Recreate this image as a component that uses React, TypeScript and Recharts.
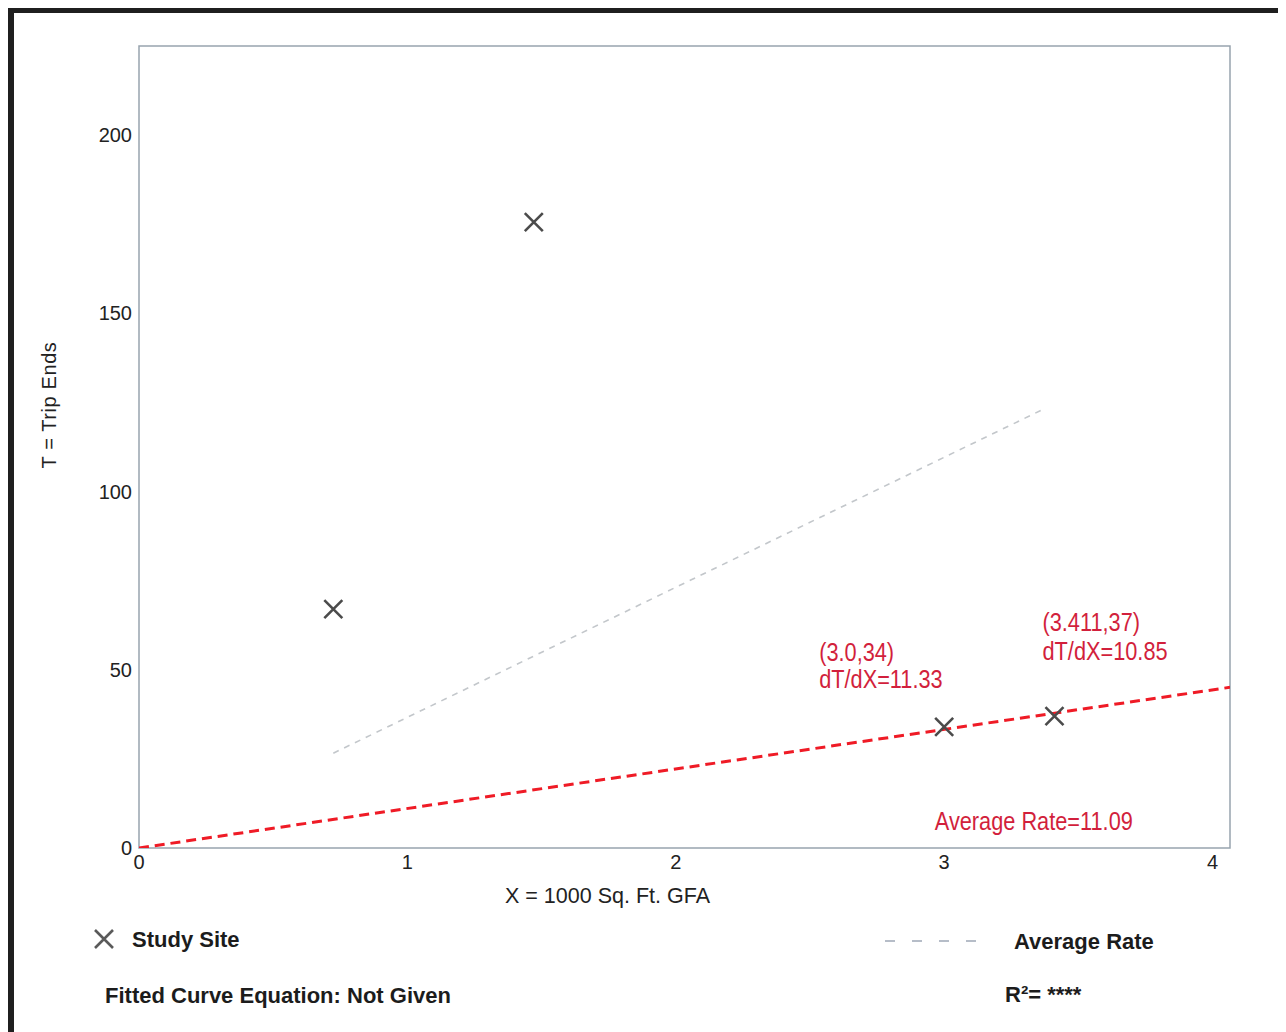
import React from 'react';
import {
  ComposedChart, XAxis, YAxis, Line, Scatter, ReferenceArea, ReferenceDot,
} from 'recharts';

// study sites (1000 sq ft GFA vs trip ends)
const siteX = [0.724, 1.471, 3.0, 3.411];
const siteT = [67, 175.6, 34, 37];

// fitted average-rate line across the observed range
const fitX = [0.724, 3.378];
const fitT = [26.6, 123.4];

// red average rate through the origin
const AVG_RATE = 11.09;
const rateX = [0, 4.065];

const xTicks = [0, 1, 2, 3, 4];
const yTicks = [0, 50, 100, 150, 200];

const X_MAX = 4.065;
const Y_MAX = 225;

const sites = siteX.map((x, i) => ({ x, y: siteT[i] }));
const fitLine = fitX.map((x, i) => ({ x, y: fitT[i] }));
const rateLine = rateX.map(x => ({ x, y: x * AVG_RATE }));

const FONT = "'Liberation Sans', Arial, Helvetica, sans-serif";
const RED_TEXT = '#d21f3c';
// condensed look for the red notes
const SQUEEZE = 0.87;

const Cross = ({ cx, cy, size = 9, color = '#4b4b4b' }: any) => (
  <path
    d={`M${cx - size},${cy - size}L${cx + size},${cy + size}M${cx - size},${cy + size}L${cx + size},${cy - size}`}
    stroke={color}
    strokeWidth={2.6}
    fill="none"
  />
);

// multi-line red note drawn relative to a reference dot
const Note = ({ viewBox, lines, dx = 0, dy = 0, gap = 28 }: any) => {
  if (!viewBox) return null;
  const cx = viewBox.x + (viewBox.width || 0) / 2;
  const cy = viewBox.y + (viewBox.height || 0) / 2;
  return (
    <g transform={`translate(${cx + dx}, ${cy + dy}) scale(${SQUEEZE}, 1)`}>
      <text x={0} y={0} fill={RED_TEXT} fontFamily={FONT} fontSize={25} textAnchor="start">
        {lines.map((l: string, i: number) => (
          <tspan key={i} x={0} dy={i === 0 ? 0 : gap}>{l}</tspan>
        ))}
      </text>
    </g>
  );
};

const XTitle = ({ viewBox }: any) => {
  if (!viewBox) return null;
  return (
    <text x={viewBox.x + viewBox.width / 2 - 77} y={viewBox.y + 55} textAnchor="middle"
      fontFamily={FONT} fontSize={21.5} fill="#222">
      X = 1000 Sq. Ft. GFA
    </text>
  );
};

const YTitle = ({ viewBox }: any) => {
  if (!viewBox) return null;
  const x = 35;
  const y = viewBox.y + viewBox.height / 2 - 42;
  return (
    <text x={x} y={y} transform={`rotate(-90, ${x}, ${y})`} textAnchor="middle" dominantBaseline="central"
      fontFamily={FONT} fontSize={20} fill="#222" letterSpacing={0.6}>
      T = Trip Ends
    </text>
  );
};

const tickStyle = { fontSize: 20, fill: '#222', fontFamily: FONT };

const legendText: React.CSSProperties = {
  position: 'absolute', fontFamily: FONT, fontWeight: 700, fontSize: 22,
  lineHeight: '24px', color: '#1c1c1c', whiteSpace: 'nowrap',
};

export default function App() {
  return (
    <div style={{
      position: 'relative', width: 1264, height: 1030, background: '#fff',
      borderLeft: '6px solid #1f1f1f', borderTop: '5px solid #1f1f1f', borderRight: '6px solid #1f1f1f',
      fontFamily: FONT,
    }}>
      <ComposedChart width={1264} height={1000} margin={{ top: 33, right: 48, left: 65, bottom: 105 }}>
        <XAxis type="number" dataKey="x" domain={[0, X_MAX]} ticks={xTicks} allowDataOverflow
          axisLine={false} tickLine={false} tickSize={0} tickMargin={7} height={60}
          tick={tickStyle} label={<XTitle />} />
        <YAxis type="number" dataKey="y" domain={[0, Y_MAX]} ticks={yTicks} allowDataOverflow
          axisLine={false} tickLine={false} tickSize={0} tickMargin={7} width={60}
          tick={tickStyle} label={<YTitle />} />
        <ReferenceArea x1={0} x2={X_MAX} y1={0} y2={Y_MAX} fill="none" stroke="#98a4ae" strokeWidth={1.5} />
        <Line data={fitLine} dataKey="y" type="linear" stroke="#c3c7cb" strokeWidth={1.6}
          strokeDasharray="6 6" dot={false} isAnimationActive={false} />
        <Line data={rateLine} dataKey="y" type="linear" stroke="#ef1b26" strokeWidth={3}
          strokeDasharray="10 5.9" dot={false} isAnimationActive={false} />
        <Scatter data={sites} dataKey="y" shape={(p: any) => <Cross cx={p.cx} cy={p.cy} />}
          isAnimationActive={false} />
        <ReferenceDot x={3.0} y={34} r={0} fill="none" stroke="none"
          label={<Note lines={['(3.0,34)', 'dT/dX=11.33']} dx={-125} dy={-66} gap={27} />} />
        <ReferenceDot x={3.411} y={37} r={0} fill="none" stroke="none"
          label={<Note lines={['(3.411,37)', 'dT/dX=10.85']} dx={-12} dy={-85} gap={29} />} />
        <ReferenceDot x={2.965} y={5.05} r={0} fill="none" stroke="none"
          label={<Note lines={[`Average Rate=${AVG_RATE.toFixed(2)}`]} />} />
      </ComposedChart>

      {/* legend block */}
      <svg style={{ position: 'absolute', left: 78, top: 914 }} width={26} height={26}>
        <Cross cx={12} cy={12} size={9} color="#5a5a5a" />
      </svg>
      <div style={{ ...legendText, left: 118, top: 915 }}>Study Site</div>
      <div style={{ ...legendText, left: 91, top: 971 }}>Fitted Curve Equation: Not Given</div>
      <svg style={{ position: 'absolute', left: 871, top: 922 }} width={100} height={12}>
        <line x1={0} y1={6} x2={96} y2={6} stroke="#9ea8b6" strokeWidth={1.5} strokeDasharray="10 17" />
      </svg>
      <div style={{ ...legendText, left: 1000, top: 917 }}>Average Rate</div>
      <div style={{ ...legendText, left: 991, top: 970 }}>R²= ****</div>
    </div>
  );
}
